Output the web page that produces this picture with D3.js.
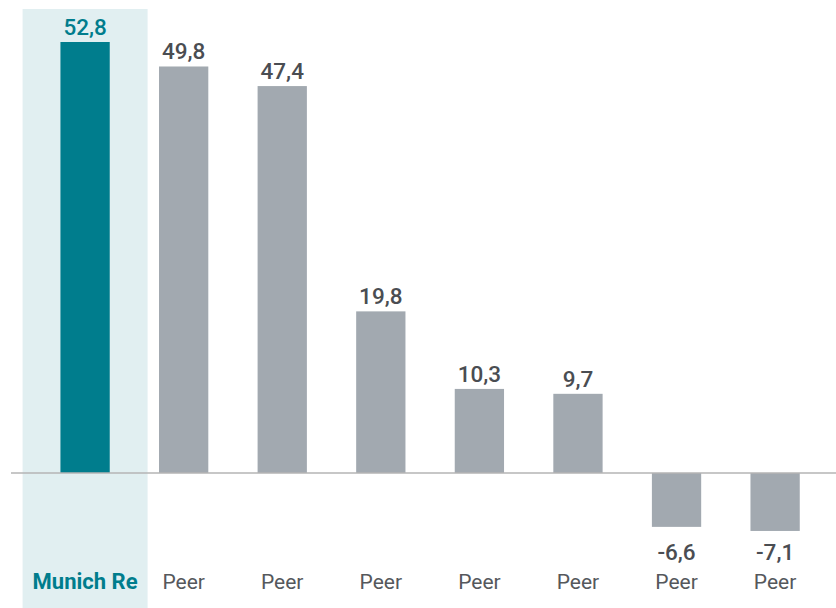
<!DOCTYPE html>
<html>
<head>
<meta charset="utf-8">
<script src="https://cdn.jsdelivr.net/npm/d3@7"></script>
<style>
  html, body { margin: 0; padding: 0; background: #fff; }
  svg { display: block; font-family: Roboto, "Liberation Sans", sans-serif; }
</style>
</head>
<body>
<svg id="chart" width="836" height="608"></svg>
<script>
const categories = ["Munich Re", "Peer", "Peer", "Peer", "Peer", "Peer", "Peer", "Peer"];
const values = [52.8, 49.8, 47.4, 19.8, 10.3, 9.7, -6.6, -7.1];
const valueLabels = ["52,8", "49,8", "47,4", "19,8", "10,3", "9,7", "-6,6", "-7,1"];
const highlightIndex = 0;

const svg = d3.select("#chart");
const W = 836, H = 608;
const ids = d3.range(categories.length);

const x = d3.scaleBand().domain(ids).range([35.8, 824.4]).paddingInner(0.5).paddingOuter(0.25);
const y = d3.scaleLinear().domain([0, 52.8]).range([473, 42]);

const teal = "#007d8d";
const gray = "#a2a9b0";

// highlight band
const hc = x(highlightIndex) + x.bandwidth() / 2;
svg.append("rect")
  .attr("x", hc - 62.5).attr("y", 9)
  .attr("width", 125).attr("height", H - 9)
  .attr("fill", "#e1eff1");

// bars
svg.selectAll("rect.bar").data(ids).join("rect")
  .attr("class", "bar")
  .attr("x", i => x(i))
  .attr("width", x.bandwidth())
  .attr("y", i => y(Math.max(0, values[i])))
  .attr("height", i => Math.abs(y(values[i]) - y(0)))
  .attr("fill", i => i === highlightIndex ? teal : gray);

// baseline
svg.append("line")
  .attr("x1", 11).attr("x2", W)
  .attr("y1", y(0)).attr("y2", y(0))
  .attr("stroke", "#b4b4b4").attr("stroke-width", 1.5);

// value labels
svg.selectAll("text.val").data(ids).join("text")
  .attr("class", "val")
  .attr("x", i => x(i) + x.bandwidth() / 2)
  .attr("y", i => values[i] >= 0 ? y(values[i]) - 7 : y(0) + 87)
  .attr("text-anchor", "middle")
  .attr("font-size", 22.5)
  .attr("font-weight", 500)
  .attr("fill", i => i === highlightIndex ? teal : "#4a4d52")
  .text(i => valueLabels[i]);

// category labels
svg.selectAll("text.cat").data(ids).join("text")
  .attr("class", "cat")
  .attr("x", i => x(i) + x.bandwidth() / 2)
  .attr("y", 589)
  .attr("text-anchor", "middle")
  .attr("font-size", i => i === highlightIndex ? 22 : 21)
  .attr("font-weight", i => i === highlightIndex ? 700 : 400)
  .attr("fill", i => i === highlightIndex ? teal : "#55585c")
  .text(i => categories[i]);
</script>
</body>
</html>
